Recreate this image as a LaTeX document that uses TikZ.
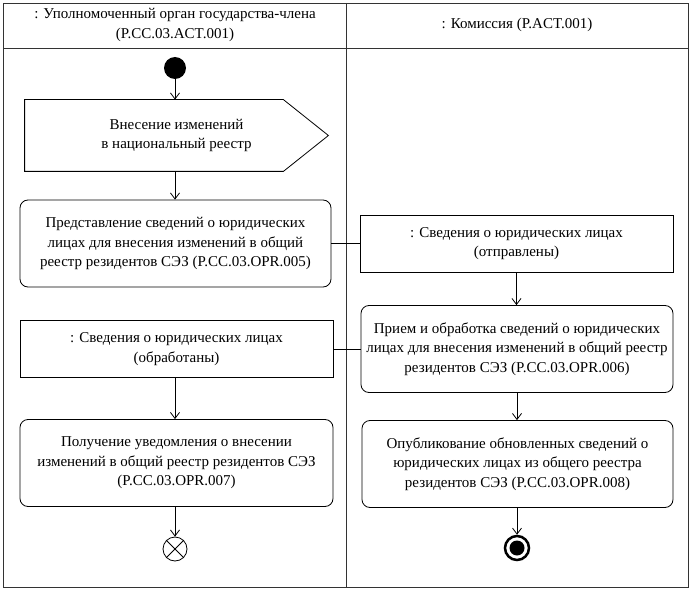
\documentclass[tikz,border=0pt]{standalone}
\usepackage{fontspec}
\setmainfont{Liberation Serif}
\usetikzlibrary{arrows.meta,calc}
\begin{document}
\begin{tikzpicture}[x=1pt,y=-1pt,
  line width=0.8pt,
  lbl/.style={font=\fontsize{15}{19.5}\selectfont, align=center},
  act/.style={lbl, draw, rounded corners=8pt, inner sep=0pt, minimum width=311pt, minimum height=87pt},
  obj/.style={lbl, draw, inner sep=0pt, minimum width=313pt, minimum height=57pt},
  flow/.style={-{Straight Barb[length=6pt,width=9pt]}},
  frame/.style={draw=black!80, line width=0.9pt},
]
\useasboundingbox (0,0) rectangle (691,591);
% swimlanes
\draw[frame] (3,3) rectangle (688,587);
\coordinate (hl) at (3,48);
\coordinate (hr) at (688,48);
\coordinate (dt) at (346,3);
\coordinate (db) at (346,587);
\draw[frame] (hl) -- (hr);
\draw[frame] (dt) -- (db);
\node[lbl] (h1) at (175,25) {: Уполномоченный орган государства-члена\\(P.CC.03.ACT.001)};
\node[lbl] (h2) at (517,25) {: Комиссия (P.ACT.001)};

% start
\node[circle, fill, minimum width=21pt, minimum height=22pt, inner sep=0pt] (start) at (175,68) {};

% signal
\node[lbl, minimum width=303pt, minimum height=71pt, inner sep=0pt] (sig) at (176.5,135.5) {Внесение изменений\\в национальный реестр};
\draw ($(sig.north west)$) -- ($(sig.north east)+(-45,0)$) -- (sig.east) -- ($(sig.south east)+(-45,0)$) -- (sig.south west) -- cycle;

% actions
\node[act] (a1) at (175.5,243.5) {Представление сведений о юридических\\лицах для внесения изменений в общий\\реестр резидентов СЭЗ (P.CC.03.OPR.005)};
\node[obj] (o1) at (516.5,243.5) {: Сведения о юридических лицах\\(отправлены)};
\node[act, minimum width=312pt] (a2) at (517,349) {Прием и обработка сведений о юридических\\лицах для внесения изменений в общий реестр\\резидентов СЭЗ (P.CC.03.OPR.006)};
\node[obj] (o2) at (176.5,349) {: Сведения о юридических лицах\\(обработаны)};
\node[act, minimum width=313pt] (a3) at (176.5,463) {Получение уведомления о внесении\\изменений в общий реестр резидентов СЭЗ\\(P.CC.03.OPR.007)};
\node[act] (a4) at (517.5,464) {Опубликование обновленных сведений о\\юридических лицах из общего реестра\\резидентов СЭЗ (P.CC.03.OPR.008)};

% finals
\node[circle, draw, minimum size=24pt, inner sep=0pt] (ff) at (175,549) {};
\draw (ff.north west) -- (ff.south east);
\draw (ff.north east) -- (ff.south west);
\node[circle, draw, line width=2.5pt, minimum size=24pt, inner sep=0pt] (fin) at (517,548) {};
\node[circle, fill, minimum size=15pt, inner sep=0pt] (fini) at (fin) {};

% connectors
\draw[flow] (start) -- (start |- sig.north);
\draw[flow] (sig.south -| start) -- (start |- a1.north);
\draw (a1.east) -- (o1.west);
\draw[flow] (o1.south) -- (o1.south |- a2.north);
\draw (a2.west) -- (o2.east);
\draw[flow] (o2.south -| start) -- (start |- a3.north);
\draw[flow] (a3.south -| start) -- (ff.north);
\draw[flow] (a2.south -| fin) -- (fin |- a4.north);
\draw[flow] (a4.south -| fin) -- (fin.north);
\end{tikzpicture}
\end{document}
